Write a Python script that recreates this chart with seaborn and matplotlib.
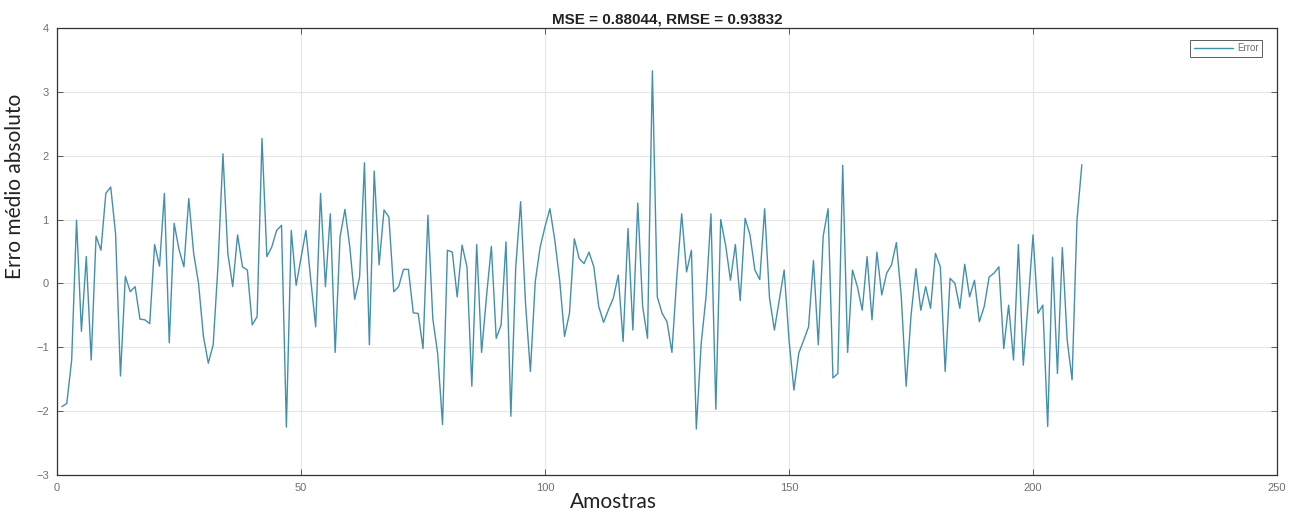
import numpy as np
import pandas as pd
import matplotlib
matplotlib.use("Agg")
import matplotlib.pyplot as plt
import seaborn as sns

samples = list(range(1, 211))
error = [
    -1.93, -1.88, -1.20, 0.99, -0.75, 0.42, -1.20, 0.74, 0.52, 1.41,
    1.51, 0.78, -1.45, 0.11, -0.13, -0.05, -0.56, -0.57, -0.63, 0.61,
    0.27, 1.41, -0.93, 0.94, 0.53, 0.26, 1.33, 0.47, 0.00, -0.83,
    -1.25, -0.96, 0.30, 2.03, 0.47, -0.05, 0.76, 0.26, 0.21, -0.65,
    -0.52, 2.27, 0.42, 0.57, 0.83, 0.91, -2.25, 0.83, -0.03, 0.40,
    0.83, 0.05, -0.68, 1.41, -0.05, 1.09, -1.08, 0.73, 1.16, 0.57,
    -0.25, 0.10, 1.89, -0.96, 1.76, 0.29, 1.15, 1.04, -0.13, -0.05,
    0.22, 0.22, -0.46, -0.47, -1.02, 1.07, -0.55, -1.10, -2.21, 0.52,
    0.49, -0.21, 0.60, 0.26, -1.61, 0.61, -1.08, -0.21, 0.58, -0.86,
    -0.65, 0.65, -2.08, 0.26, 1.28, -0.31, -1.38, 0.03, 0.57, 0.89,
    1.17, 0.68, 0.05, -0.83, -0.47, 0.70, 0.39, 0.31, 0.49, 0.26,
    -0.36, -0.61, -0.41, -0.23, 0.13, -0.91, 0.86, -0.73, 1.26, -0.36,
    -0.86, 3.33, -0.21, -0.47, -0.60, -1.08, 0.10, 1.09, 0.18, 0.52,
    -2.28, -0.94, -0.20, 1.09, -1.97, 1.00, 0.60, 0.05, 0.61, -0.27,
    1.02, 0.76, 0.21, 0.06, 1.17, -0.23, -0.73, -0.26, 0.21, -0.89,
    -1.67, -1.09, -0.89, -0.68, 0.36, -0.96, 0.74, 1.17, -1.48, -1.41,
    1.85, -1.08, 0.21, -0.05, -0.42, 0.42, -0.57, 0.49, -0.18, 0.16,
    0.29, 0.64, -0.21, -1.61, -0.50, 0.23, -0.42, -0.05, -0.39, 0.47,
    0.26, -1.38, 0.08, 0.00, -0.39, 0.30, -0.21, 0.05, -0.60, -0.36,
    0.10, 0.16, 0.26, -1.02, -0.34, -1.20, 0.61, -1.28, -0.30, 0.76,
    -0.47, -0.34, -2.24, 0.41, -1.41, 0.56, -0.89, -1.51, 0.99, 1.86,
]
x_ticks = [0, 50, 100, 150, 200, 250]
y_ticks = [-3, -2, -1, 0, 1, 2, 3, 4]
title = "MSE = 0.88044, RMSE = 0.93832"

df = pd.DataFrame({"Amostras": samples, "Error": error})

sns.set_theme(style="whitegrid")
plt.rcParams['font.family'] = ['Liberation Sans', 'DejaVu Sans']

fig = plt.figure(figsize=(12.99, 5.16), dpi=100)
ax = fig.add_axes([0.0439, 0.0795, 0.9392, 0.8662])

sns.lineplot(data=df, x="Amostras", y="Error", ax=ax, color="#4290ad",
             linewidth=1.0, label="Error")

ax.set_xlim(0, 250)
ax.set_ylim(-3, 4)
ax.set_xticks(x_ticks)
ax.set_yticks(y_ticks)
ax.tick_params(axis="both", direction="in", length=4, width=0.6,
               labelsize=8, colors="#444444", labelcolor="#707070",
               top=True, right=True, bottom=True, left=True, pad=6)
ax.grid(True, color="#e6e6e6", linewidth=0.8)
for s in ax.spines.values():
    s.set_visible(True)
    s.set_color("#333333")
    s.set_linewidth(0.9)
ax.set_facecolor("white")

ax.set_title(title, fontsize=11, fontweight="bold", pad=3, color="#222222")
ax.set_xlabel("Amostras", fontsize=15, color="#222222", family=["Lato", "DejaVu Sans"])
ax.set_ylabel("Erro médio absoluto", fontsize=15, color="#222222", family=["Lato", "DejaVu Sans"])
ax.xaxis.set_label_coords(0.456, -0.038)
ax.yaxis.set_label_coords(-0.026, 0.645)

leg = ax.legend(loc="upper right", fontsize=7, frameon=True, fancybox=False,
                borderpad=0.4, handlelength=4.0, handletextpad=0.4,
                bbox_to_anchor=(0.992, 0.985))
leg.get_frame().set_edgecolor("#333333")
leg.get_frame().set_linewidth(0.7)
for t in leg.get_texts():
    t.set_color("#707070")

fig.savefig("out.png", dpi=100)
